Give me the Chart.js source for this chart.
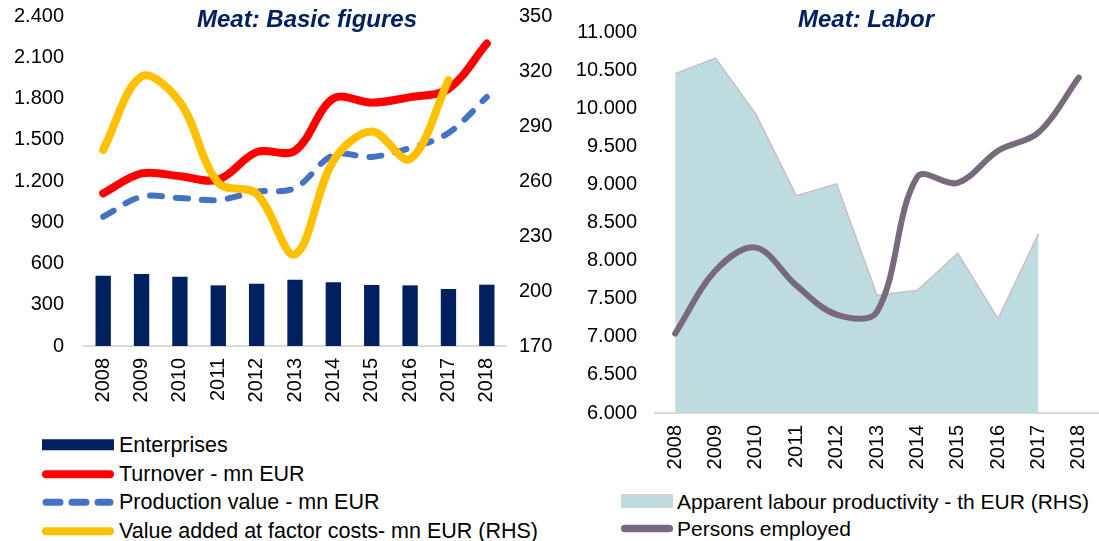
<!DOCTYPE html>
<html>
<head>
<meta charset="utf-8">
<script src="https://cdn.jsdelivr.net/npm/chart.js@4.4.1/dist/chart.umd.min.js"></script>
<style>
    body { margin: 0; background: #fff; font-family: "Liberation Sans", Arial, sans-serif; }
    #page { position: relative; width: 1099px; height: 541px; overflow: hidden; }
    canvas { position: absolute; top: 0; }
    .title { position: absolute; top: 7px; font-weight: bold; font-style: italic; font-size: 24px;
             color: #002060; line-height: 1; white-space: nowrap; transform: translateX(-50%); }
    .legend { position: absolute; font-size: 21.5px; color: #000; }
    .item { position: relative; white-space: nowrap; }
    .item svg { position: absolute; left: 0; top: 0; }
</style>
</head>
<body>
<div id="page">
    <canvas id="basicChart" width="560" height="410" style="left:0"></canvas>
    <canvas id="laborChart" width="539" height="480" style="left:560px"></canvas>
    <div class="title" style="left:307px">Meat: Basic figures</div>
    <div class="title" style="left:866px">Meat: Labor</div>
    <div class="legend" id="basicLegend" style="left:42px; top:431px"></div>
    <div class="legend" id="laborLegend" style="left:620px; top:488px; font-size:21px"></div>
</div>
<script>
const years = ['2008', '2009', '2010', '2011', '2012', '2013', '2014', '2015', '2016', '2017', '2018'];

// Meat: Basic figures
const enterprises = [511, 524, 504, 441, 453, 482, 463, 444, 441, 415, 446];
const turnover = [1110, 1255, 1235, 1210, 1410, 1420, 1800, 1770, 1810, 1870, 2200];
const productionValue = [940, 1086, 1076, 1062, 1122, 1149, 1389, 1375, 1440, 1549, 1811];
const valueAdded = [277, 317, 303, 259, 253, 220, 271, 287, 272, 315, null];
const basicLeftTicks = { min: 0, max: 2400, step: 300 };
const basicRightTicks = { min: 170, max: 350, step: 30 };

// Meat: Labor
const productivity = [10454, 10656, 9923, 8853, 9006, 7545, 7610, 8098, 7239, 8352, null];
const personsEmployed = [7043, 7870, 8170, 7675, 7290, 7330, 9100, 9020, 9442, 9680, 10402];
const laborTicks = { min: 6000, max: 11000, step: 500 };

const tickFont = { family: '"Liberation Sans", Arial, sans-serif', size: 20 };

function dotted(v) {
    return String(v).replace(/\B(?=(\d{3})+(?!\d))/g, '.');
}

function hiddenGrid() {
    return { display: false, drawTicks: false };
}

const xAxis = (height) => ({
    offset: true,
    grid: hiddenGrid(),
    border: { color: '#D9D9D9', width: 2 },
    ticks: { font: tickFont, color: '#000', minRotation: 90, maxRotation: 90, padding: 12, autoSkip: false },
    afterFit(s) { s.height = height; s.paddingLeft = 0; s.paddingRight = 0; }
});

const yAxis = (range, pos, pad, width) => ({
    position: pos,
    min: range.min,
    max: range.max,
    grid: hiddenGrid(),
    border: { display: false },
    ticks: { font: tickFont, color: '#000', stepSize: range.step, padding: pad, callback: v => dotted(v) },
    afterFit(s) { s.width = width; s.paddingTop = 0; s.paddingBottom = 0; }
});

const basicChart = new Chart(document.getElementById('basicChart'), {
    type: 'bar',
    data: {
        labels: years,
        datasets: [
            { type: 'bar', label: 'Enterprises', data: enterprises, backgroundColor: '#002060',
              barPercentage: 0.4, categoryPercentage: 1, yAxisID: 'y', order: 3 },
            { type: 'line', label: 'Turnover - mn EUR', data: turnover, borderColor: '#FF0000',
              borderWidth: 8, tension: 0.35, pointRadius: 0, borderCapStyle: 'round', yAxisID: 'y', order: 1 },
            { type: 'line', label: 'Production value - mn EUR', data: productionValue, borderColor: '#4472C4',
              borderWidth: 6, borderDash: [12, 14], tension: 0.35, pointRadius: 0, borderCapStyle: 'round',
              yAxisID: 'y', order: 2 },
            { type: 'line', label: 'Value added at factor costs- mn EUR (RHS)', data: valueAdded, borderColor: '#FFC000',
              borderWidth: 8, tension: 0.35, pointRadius: 0, borderCapStyle: 'round', yAxisID: 'y1', order: 0 }
        ]
    },
    options: {
        responsive: false,
        animation: false,
        layout: { padding: { top: 16, left: 0, right: 0, bottom: 0 } },
        plugins: { legend: { display: false }, tooltip: { enabled: false } },
        scales: {
            x: xAxis(64),
            y: yAxis(basicLeftTicks, 'left', 20, 84),
            y1: yAxis(basicRightTicks, 'right', 13, 54)
        }
    }
});

const laborChart = new Chart(document.getElementById('laborChart'), {
    type: 'line',
    data: {
        labels: years,
        datasets: [
            { label: 'Apparent labour productivity - th EUR (RHS)', data: productivity, fill: 'start',
              backgroundColor: '#BEDBDF', borderColor: '#C9BFCB', borderWidth: 1.5, tension: 0, pointRadius: 0, order: 1 },
            { label: 'Persons employed', data: personsEmployed, borderColor: '#766A7C', borderWidth: 6,
              tension: 0.35, pointRadius: 0, borderCapStyle: 'round', order: 0 }
        ]
    },
    options: {
        responsive: false,
        animation: false,
        layout: { padding: { top: 32, left: 0, right: 0, bottom: 0 } },
        plugins: { legend: { display: false }, tooltip: { enabled: false } },
        scales: {
            x: xAxis(67),
            y: yAxis(laborTicks, 'left', 18, 95)
        }
    }
});

// HTML legends built from the chart datasets
function swatch(ds, width) {
    const c = ds.type === 'bar' || ds.fill ? ds.backgroundColor : ds.borderColor;
    if (ds.type === 'bar') {
        return `<rect x="0" y="8" width="${width}" height="11" fill="${c}"/>`;
    }
    if (ds.fill) {
        return `<rect x="0.75" y="7" width="${width - 1.5}" height="13" fill="${c}" stroke="#D5D0D8" stroke-width="1.5"/>`;
    }
    const dash = ds.borderDash ? ' stroke-dasharray="14 12"' : '';
    const w = ds.borderDash ? 7 : 8;
    return `<line x1="4" y1="14" x2="${width - 4}" y2="14" stroke="${c}" stroke-width="${w}" stroke-linecap="round"${dash}/>`;
}

function buildLegend(chart, id, order, swW, textLeft, rowH) {
    const box = document.getElementById(id);
    order.forEach(i => {
        const ds = chart.data.datasets[i];
        const item = document.createElement('div');
        item.className = 'item';
        item.style.height = rowH + 'px';
        item.style.lineHeight = rowH + 'px';
        item.style.paddingLeft = textLeft + 'px';
        item.innerHTML = `<svg width="${swW}" height="${rowH}" viewBox="0 0 ${swW} 28">${swatch(ds, swW)}</svg>${ds.label}`;
        box.appendChild(item);
    });
}

buildLegend(basicChart, 'basicLegend', [0, 1, 2, 3], 72, 77, 28.5);
buildLegend(laborChart, 'laborLegend', [0, 1], 54, 57, 27);
</script>
</body>
</html>
